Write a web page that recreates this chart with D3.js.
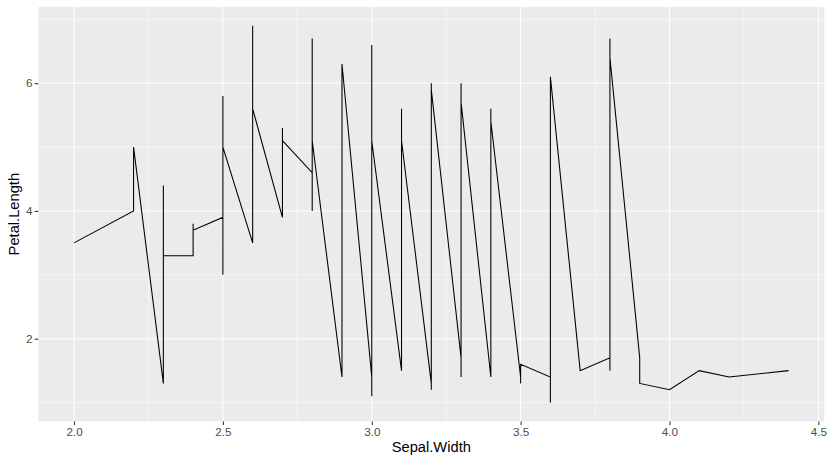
<!DOCTYPE html>
<html>
<head>
<meta charset="utf-8">
<script src="https://cdn.jsdelivr.net/npm/d3@7"></script>
<style>
  body { margin: 0; background: #fff; }
  svg text { font-family: "Liberation Sans", Arial, Helvetica, sans-serif; }
</style>
</head>
<body>
<svg id="chart"></svg>
<script>
// iris data, in original row order
const sepalWidth = [
  3.5,3.0,3.2,3.1,3.6,3.9,3.4,3.4,2.9,3.1,3.7,3.4,3.0,3.0,4.0,4.4,3.9,3.5,3.8,3.8,
  3.4,3.7,3.6,3.3,3.4,3.0,3.4,3.5,3.4,3.2,3.1,3.4,4.1,4.2,3.1,3.2,3.5,3.6,3.0,3.4,
  3.5,2.3,3.2,3.5,3.8,3.0,3.8,3.2,3.7,3.3,
  3.2,3.2,3.1,2.3,2.8,2.8,3.3,2.4,2.9,2.7,2.0,3.0,2.2,2.9,2.9,3.1,3.0,2.7,2.2,2.5,
  3.2,2.8,2.5,2.8,2.9,3.0,2.8,3.0,2.9,2.6,2.4,2.4,2.7,2.7,3.0,3.4,3.1,2.3,3.0,2.5,
  2.6,3.0,2.6,2.3,2.7,3.0,2.9,2.9,2.5,2.8,
  3.3,2.7,3.0,2.9,3.0,3.0,2.5,2.9,2.5,3.6,3.2,2.7,3.0,2.5,2.8,3.2,3.0,3.8,2.6,2.2,
  3.2,2.8,2.8,2.7,3.3,3.2,2.8,3.0,2.8,3.0,2.8,3.8,2.8,2.8,2.6,3.0,3.4,3.1,3.0,3.1,
  3.1,3.1,2.7,3.2,3.3,3.0,2.5,3.0,3.4,3.0
];
const petalLength = [
  1.4,1.4,1.3,1.5,1.4,1.7,1.4,1.5,1.4,1.5,1.5,1.6,1.4,1.1,1.2,1.5,1.3,1.4,1.7,1.5,
  1.7,1.5,1.0,1.7,1.9,1.6,1.6,1.5,1.4,1.6,1.6,1.5,1.5,1.4,1.5,1.2,1.3,1.4,1.3,1.5,
  1.3,1.3,1.3,1.6,1.9,1.4,1.6,1.4,1.5,1.4,
  4.7,4.5,4.9,4.0,4.6,4.5,4.7,3.3,4.6,3.9,3.5,4.2,4.0,4.7,3.6,4.4,4.5,4.1,4.5,3.9,
  4.8,4.0,4.9,4.7,4.3,4.4,4.8,5.0,4.5,3.5,3.8,3.7,3.9,5.1,4.5,4.5,4.7,4.4,4.1,4.0,
  4.4,4.6,4.0,3.3,4.2,4.2,4.2,4.3,3.0,4.1,
  6.0,5.1,5.9,5.6,5.8,6.6,4.5,6.3,5.8,6.1,5.1,5.3,5.5,5.0,5.1,5.3,5.5,6.7,6.9,5.0,
  5.7,4.9,6.7,4.9,5.7,6.0,4.8,4.9,5.6,5.8,6.1,6.4,5.6,5.1,5.6,6.1,5.6,5.5,4.8,5.4,
  5.6,5.1,5.1,5.9,5.7,5.2,5.0,5.2,5.4,5.1
];
const xTicks = [2.0, 2.5, 3.0, 3.5, 4.0, 4.5];
const xMinor = [2.25, 2.75, 3.25, 3.75, 4.25];
const yTicks = [2, 4, 6];
const yMinor = [1, 3, 5, 7];

const width = 832, height = 463;
const panel = { left: 38.3, right: 824.3, top: 6.9, bottom: 421.4 };

const svg = d3.select('#chart').attr('width', width).attr('height', height);

// geom_line: order by x (stable, keeps row order within ties)
const rows = d3.range(sepalWidth.length).map(i => ({ x: sepalWidth[i], y: petalLength[i], i: i }));
rows.sort((a, b) => a.x - b.x || a.i - b.i);

const xExt = d3.extent(sepalWidth), yExt = d3.extent(petalLength);
const xPad = (xExt[1] - xExt[0]) * 0.05, yPad = (yExt[1] - yExt[0]) * 0.05;

const x = d3.scaleLinear().domain([xExt[0] - xPad, xExt[1] + xPad]).range([panel.left, panel.right]);
const y = d3.scaleLinear().domain([yExt[0] - yPad, yExt[1] + yPad]).range([panel.bottom, panel.top]);

// panel background
svg.append('rect')
  .attr('x', panel.left).attr('y', panel.top)
  .attr('width', panel.right - panel.left).attr('height', panel.bottom - panel.top)
  .style('fill', '#ebebeb');

const grid = svg.append('g');
grid.selectAll('.xminor').data(xMinor).enter().append('line')
  .attr('x1', d => x(d)).attr('x2', d => x(d)).attr('y1', panel.top).attr('y2', panel.bottom)
  .style('stroke', '#fff').style('stroke-width', 0.53);
grid.selectAll('.yminor').data(yMinor).enter().append('line')
  .attr('y1', d => y(d)).attr('y2', d => y(d)).attr('x1', panel.left).attr('x2', panel.right)
  .style('stroke', '#fff').style('stroke-width', 0.53);
grid.selectAll('.xmajor').data(xTicks).enter().append('line')
  .attr('x1', d => x(d)).attr('x2', d => x(d)).attr('y1', panel.top).attr('y2', panel.bottom)
  .style('stroke', '#fff').style('stroke-width', 1.07);
grid.selectAll('.ymajor').data(yTicks).enter().append('line')
  .attr('y1', d => y(d)).attr('y2', d => y(d)).attr('x1', panel.left).attr('x2', panel.right)
  .style('stroke', '#fff').style('stroke-width', 1.07);

// the line
const line = d3.line().x(d => x(d.x)).y(d => y(d.y));
svg.append('path')
  .datum(rows)
  .attr('d', line)
  .style('fill', 'none')
  .style('stroke', '#000')
  .style('stroke-width', 1.07);

// axes
const xAxis = d3.axisBottom(x).tickValues(xTicks).tickFormat(d3.format('.1f')).tickSize(3.67).tickPadding(2.2);
const yAxis = d3.axisLeft(y).tickValues(yTicks).tickFormat(d3.format('d')).tickSize(3.67).tickPadding(2.2);

const gx = svg.append('g').attr('transform', `translate(0,${panel.bottom})`).call(xAxis);
const gy = svg.append('g').attr('transform', `translate(${panel.left},0)`).call(yAxis);
[gx, gy].forEach(g => {
  g.select('.domain').remove();
  g.selectAll('.tick line').style('stroke', '#333').style('stroke-width', 1.07);
  g.selectAll('.tick text').style('fill', '#4d4d4d').style('font-size', '11.7px')
    .style('font-family', '"Liberation Sans", Arial, sans-serif');
});

svg.append('text')
  .attr('x', (panel.left + panel.right) / 2).attr('y', 452)
  .attr('text-anchor', 'middle')
  .style('font-size', '14.7px').style('fill', '#000')
  .text('Sepal.Width');

svg.append('text')
  .attr('transform', `translate(19,${(panel.top + panel.bottom) / 2}) rotate(-90)`)
  .attr('text-anchor', 'middle')
  .style('font-size', '14.7px').style('fill', '#000')
  .text('Petal.Length');
</script>
</body>
</html>
